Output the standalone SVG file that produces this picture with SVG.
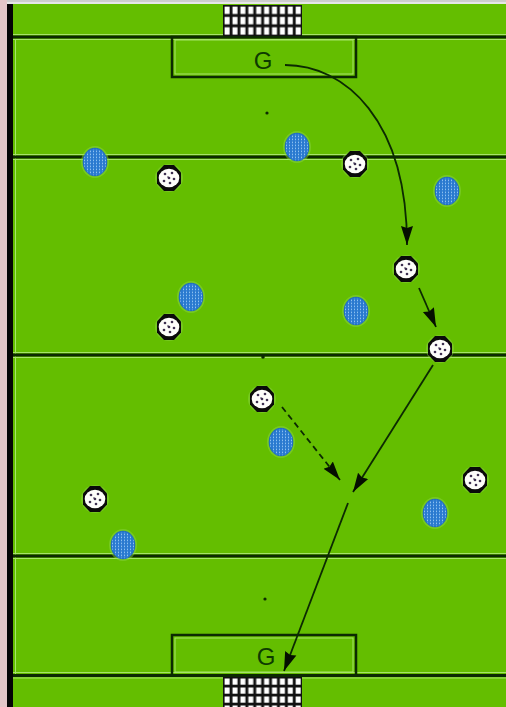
<svg xmlns="http://www.w3.org/2000/svg" width="506" height="707" viewBox="0 0 506 707">
<style>
.ln{stroke:#0c2a02;stroke-width:3;fill:none}
.hl{stroke:#a6e46a;stroke-width:1;fill:none}
.box{stroke:#0c2a02;stroke-width:2.5;fill:none}
.con{stroke:#0c2a02;stroke-width:1.8;fill:none}
.g{font-family:"Liberation Sans",Arial,sans-serif;font-size:24px;fill:#0d3a00;text-anchor:middle}
</style>
<defs>
<pattern id="netTop" patternUnits="userSpaceOnUse" x="223" y="5" width="7.9" height="10.33">
<rect width="7.9" height="10.33" fill="#111"/>
<rect x="1.6" y="1.6" width="5" height="7.4" fill="#fff"/>
</pattern>
<pattern id="netBot" patternUnits="userSpaceOnUse" x="223" y="677" width="7.9" height="9">
<rect width="7.9" height="9" fill="#111"/>
<rect x="1.6" y="1.5" width="5" height="6.2" fill="#fff"/>
</pattern>
<pattern id="bluedots" patternUnits="userSpaceOnUse" width="3" height="3">
<rect width="3" height="3" fill="#2a7ad0"/>
<rect x="1" y="0.6" width="1" height="1.6" fill="#8cc0f0"/>
</pattern>
<g id="wb">
<circle r="14" fill="#8fd64a" opacity="0.45"/>
<polygon points="-5,-13 5,-13 12,-5.5 12,5.5 5,13 -5,13 -12,5.5 -12,-5.5" fill="#0a0a0a"/>
<ellipse rx="10.3" ry="9.3" fill="#fdfdfa"/>
<g fill="#3d3050">
<circle cx="-4" cy="-4" r="1.3"/>
<circle cx="3" cy="-5" r="1.3"/>
<circle cx="0" cy="0" r="1.3"/>
<circle cx="5" cy="1" r="1.3"/>
<circle cx="-5" cy="3" r="1.3"/>
<circle cx="1" cy="5" r="1.3"/>
<circle cx="-1" cy="-1" r="0.8"/>
</g>
</g>
<g id="bb">
<ellipse rx="14" ry="16" fill="#8fd64a" opacity="0.45"/>
<ellipse rx="12.3" ry="14.3" fill="#1f6cc0"/>
<ellipse rx="11.3" ry="13.3" fill="url(#bluedots)"/>
</g>
<marker id="ah" markerUnits="userSpaceOnUse" markerWidth="20" markerHeight="14" refX="19" refY="7" orient="auto">
<path d="M0,1 L19,7 L0,13 L2,7 Z" fill="#050f00"/>
</marker>
</defs>

<g id="field">
<rect x="0" y="0" width="506" height="707" fill="#64be00"/>
<rect x="0" y="0" width="506" height="4" fill="#e6e6e6"/>
<line x1="0" y1="1" x2="506" y2="1" stroke="#b5b5b5" stroke-width="1"/>
<rect x="0" y="0" width="7" height="707" fill="#e3c6c8"/>
<rect x="7" y="4" width="6" height="703" fill="#050505"/>
<line x1="15.5" y1="39" x2="15.5" y2="674" stroke="#a6e46a" stroke-width="1"/>

<line class="hl" x1="13" y1="34.5" x2="506" y2="34.5"/>
<line class="hl" x1="13" y1="39.5" x2="506" y2="39.5"/>
<line class="ln" x1="13" y1="37" x2="506" y2="37"/>

<line class="hl" x1="13" y1="154.5" x2="506" y2="154.5"/>
<line class="hl" x1="13" y1="159.5" x2="506" y2="159.5"/>
<line class="ln" x1="13" y1="157" x2="506" y2="157"/>

<line class="hl" x1="13" y1="352.5" x2="506" y2="352.5"/>
<line class="hl" x1="13" y1="357.5" x2="506" y2="357.5"/>
<line class="ln" x1="13" y1="355" x2="506" y2="355"/>

<line class="hl" x1="13" y1="553.5" x2="506" y2="553.5"/>
<line class="hl" x1="13" y1="558.5" x2="506" y2="558.5"/>
<line class="ln" x1="13" y1="556" x2="506" y2="556"/>

<line class="hl" x1="13" y1="672.5" x2="506" y2="672.5"/>
<line class="hl" x1="13" y1="678" x2="506" y2="678"/>
<line class="ln" x1="13" y1="675.5" x2="506" y2="675.5"/>

<rect x="175" y="40" width="178" height="34" fill="none" stroke="#a6e46a" stroke-width="1"/>
<rect class="box" x="172" y="37" width="184" height="40"/>
<rect x="175" y="638" width="178" height="34" fill="none" stroke="#a6e46a" stroke-width="1"/>
<rect class="box" x="172" y="635" width="184" height="40.5"/>

<rect x="223" y="5" width="79" height="31" fill="url(#netTop)"/>
<rect x="223" y="677" width="79" height="30" fill="url(#netBot)"/>

<circle cx="267" cy="113" r="1.6" fill="#0c2a02"/>
<circle cx="263" cy="357" r="1.8" fill="#0c2a02"/>
<circle cx="265" cy="599" r="1.6" fill="#0c2a02"/>

<text class="g" x="263" y="69">G</text>
<text class="g" x="266" y="665">G</text>
</g>

<g id="connectors">
<path class="con" d="M285,65 C345,65 407,120 407,245" stroke-width="2.2" marker-end="url(#ah)"/>
<line class="con" x1="419" y1="288" x2="436" y2="327" marker-end="url(#ah)"/>
<line class="con" x1="433" y1="365" x2="353" y2="492" marker-end="url(#ah)"/>
<line class="con" x1="282" y1="407" x2="340" y2="480" stroke-dasharray="6,4" marker-end="url(#ah)"/>
<line class="con" x1="348" y1="503" x2="284" y2="671" marker-end="url(#ah)"/>
</g>

<g id="w1"><use href="#wb" x="355" y="164"/></g>
<g id="w2"><use href="#wb" x="169" y="178"/></g>
<g id="w3"><use href="#wb" x="406" y="269"/></g>
<g id="w4"><use href="#wb" x="169" y="327"/></g>
<g id="w5"><use href="#wb" x="440" y="349"/></g>
<g id="w6"><use href="#wb" x="262" y="399"/></g>
<g id="w7"><use href="#wb" x="475" y="480"/></g>
<g id="w8"><use href="#wb" x="95" y="499"/></g>

<g id="b1"><use href="#bb" x="95" y="162"/></g>
<g id="b2"><use href="#bb" x="297" y="147"/></g>
<g id="b3"><use href="#bb" x="447" y="191"/></g>
<g id="b4"><use href="#bb" x="191" y="297"/></g>
<g id="b5"><use href="#bb" x="356" y="311"/></g>
<g id="b6"><use href="#bb" x="281" y="442"/></g>
<g id="b7"><use href="#bb" x="435" y="513"/></g>
<g id="b8"><use href="#bb" x="123" y="545"/></g>
</svg>
